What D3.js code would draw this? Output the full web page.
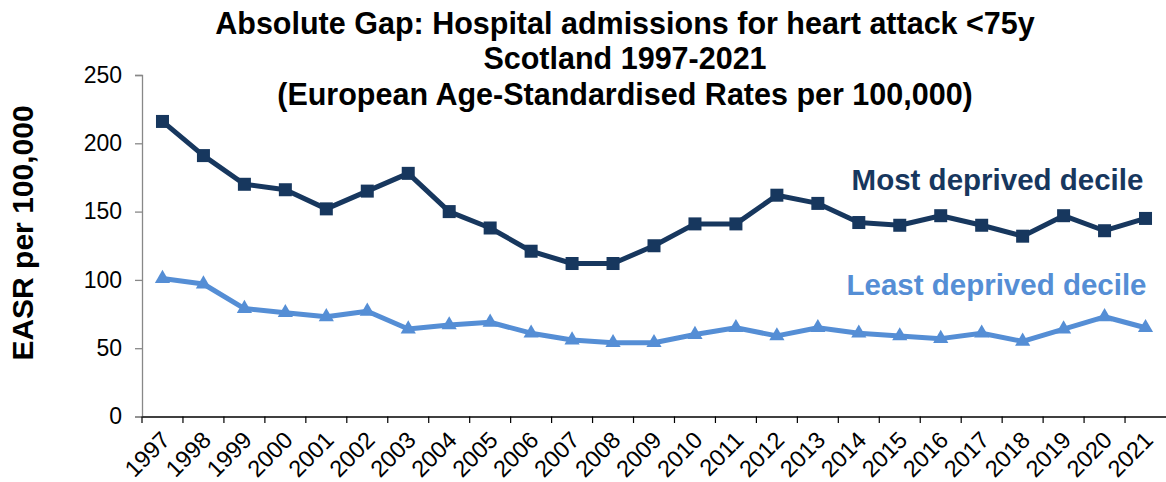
<!DOCTYPE html>
<html><head><meta charset="utf-8">
<script src="https://cdn.jsdelivr.net/npm/d3@7"></script>
<style>body{margin:0;background:#fff;} svg{display:block;font-family:"Liberation Sans",Arial,sans-serif;}</style>
</head><body><svg id="c" width="1166" height="482"></svg>
<script>
const years = ["1997","1998","1999","2000","2001","2002","2003","2004","2005","2006","2007","2008","2009","2010","2011","2012","2013","2014","2015","2016","2017","2018","2019","2020","2021"];
const mostDeprived = [216,191,170,166,152,165,178,150,138,121,112,112,125,141,141,162,156,142,140,147,140,132,147,136,145];
const leastDeprived = [101,97,79,76,73,77,64,67,69,61,56,54,54,60,65,59,65,61,59,57,61,55,64,73,65];
const yTicks = [0,50,100,150,200,250];
const titleLines = ["Absolute Gap: Hospital admissions for heart attack <75y","Scotland 1997-2021","(European Age-Standardised Rates per 100,000)"];

const svg = d3.select("#c");
const x = d3.scaleBand().domain(years).range([142,1166]);
const y = d3.scaleLinear().domain([0,250]).range([416.5,75]);

// title
svg.append("g").selectAll("text").data(titleLines).join("text")
  .attr("x",625).attr("y",(d,i)=>33.5+i*35.5)
  .attr("text-anchor","middle").attr("font-weight","bold").attr("font-size",30.5)
  .text(d=>d);

// y axis
const ya = svg.append("g").attr("transform","translate(142,0)")
  .call(d3.axisLeft(y).tickValues(yTicks).tickSize(7).tickPadding(13));
ya.select(".domain").attr("stroke","#888").attr("stroke-width",1.3);
ya.selectAll(".tick line").attr("stroke","#888").attr("stroke-width",1.3);
ya.selectAll("text").attr("font-size",23).attr("fill","#000").attr("font-family","Liberation Sans, Arial, sans-serif");

// x axis
const xa = svg.append("g").attr("transform","translate(0,416.5)")
  .call(d3.axisBottom(x).tickSize(0).tickPadding(0));
xa.select(".domain").attr("stroke","#000").attr("stroke-width",1.3);
xa.selectAll(".tick line").remove();
// boundary ticks
svg.append("g").selectAll("line").data(years).join("line")
  .attr("x1",d=>x(d)).attr("x2",d=>x(d)).attr("y1",416.5).attr("y2",423)
  .attr("stroke","#000").attr("stroke-width",1.2);
xa.selectAll(".tick text")
  .attr("font-size",23.5).attr("fill","#000").attr("font-family","Liberation Sans, Arial, sans-serif")
  .attr("text-anchor","end").attr("dy","0.72em")
  .attr("transform","translate(-3,13) rotate(-45)");

// y label
svg.append("text").attr("transform","translate(33,233) rotate(-90)")
  .attr("text-anchor","middle").attr("font-weight","bold").attr("font-size",30)
  .text("EASR per 100,000");

const cx = d => x(d)+x.bandwidth()/2;
const line = d3.line().x((d,i)=>cx(years[i])).y(d=>y(d));

const cMost = "#17375E", cLeast = "#558ED5";
svg.append("path").datum(mostDeprived).attr("d",line).attr("fill","none").attr("stroke",cMost).attr("stroke-width",5).attr("stroke-linejoin","round");
svg.append("path").datum(leastDeprived).attr("d",line).attr("fill","none").attr("stroke",cLeast).attr("stroke-width",5).attr("stroke-linejoin","round");

svg.append("g").selectAll("rect").data(mostDeprived).join("rect")
  .attr("x",(d,i)=>cx(years[i])-6.5).attr("y",d=>y(d)-6.5).attr("width",13).attr("height",13).attr("fill",cMost);
const tri = d3.symbol().type(d3.symbolTriangle).size(100);
svg.append("g").selectAll("path").data(leastDeprived).join("path")
  .attr("d",tri).attr("transform",(d,i)=>`translate(${cx(years[i])},${y(d)})`).attr("fill",cLeast);

svg.append("text").attr("x",997.5).attr("y",190).attr("text-anchor","middle")
  .attr("font-weight","bold").attr("font-size",29.5).attr("fill",cMost).text("Most deprived decile");
svg.append("text").attr("x",996.5).attr("y",295).attr("text-anchor","middle")
  .attr("font-weight","bold").attr("font-size",29.5).attr("fill",cLeast).text("Least deprived decile");
</script></body></html>
